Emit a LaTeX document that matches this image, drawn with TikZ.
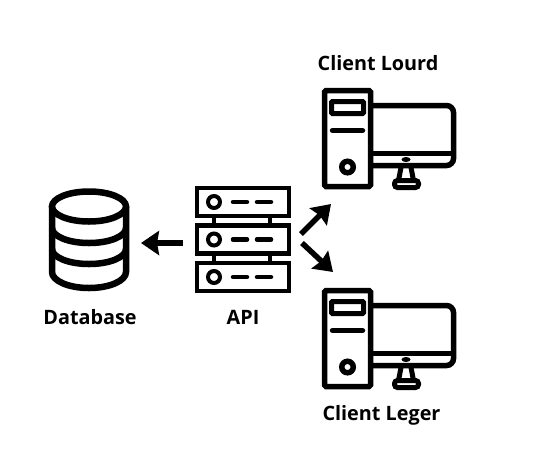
\documentclass[tikz,border=0pt]{standalone}
\usepackage{fontspec}
\setmainfont{Open Sans}
\usetikzlibrary{arrows.meta}
\tikzset{
  label text/.style={font=\fontsize{19.8}{22}\selectfont\bfseries, text=black},
  flow/.style={-{Stealth[length=18pt,width=24pt,inset=2pt]}, line width=5.5pt},
  pics/computer/.style={code={
    \draw[line width=5.5pt, rounded corners=1.5pt] (0,0) rectangle (46,96);
    \draw[line width=5pt, rounded corners=1pt] (7,11) rectangle (39,23);
    \draw[line width=5.5pt, line cap=round] (8,40) -- (38,40);
    \draw[line width=5.5pt] (23,76.5) circle (5.75);
    \draw[line width=5.5pt, rounded corners=7pt] (46,15) -- (129,15) -- (129,75) -- (46,75);
    \draw[line width=5pt] (46,63) -- (129,63);
    \fill (81.5,69) ellipse (4.5 and 2.5);
    \draw[line width=5pt, line join=round] (76.5,77) -- (74,90) (86.5,77) -- (89,90);
    \draw[line width=5pt, rounded corners=3pt] (70,90) rectangle (94,97);
  }},
  pics/server/.style={code={
    \draw[line width=4.5pt] (0,0) rectangle (92,28);
    \draw[line width=4pt] (17,14) circle (6);
    \draw[line width=4.5pt, line cap=round] (36,14) -- (50,14) (60,14) -- (74,14);
  }}
}
\begin{document}
\begin{tikzpicture}[x=1pt,y=-1pt]
  \useasboundingbox (0,0) rectangle (537,451);
  \draw
    (90,317) node[label text] (database){Database}
    (243,317) node[label text] (api){API}
    (378,63) node[label text] (lourd){Client Lourd}
    (381.5,415) node[label text] (leger){Client Leger};
  \begin{scope}[line width=6.5pt]
    \draw (89,206.5) ellipse (37 and 15);
    \draw (52,206.5) -- (52,272) arc[start angle=180, end angle=0, x radius=37, y radius=16] -- (126,206.5);
    \draw (52,228) arc[start angle=180, end angle=0, x radius=37, y radius=15];
    \draw (52,249) arc[start angle=180, end angle=0, x radius=37, y radius=15];
  \end{scope}
  \pic at (197,188) {server};
  \pic at (197,225.5) {server};
  \pic at (197,263) {server};
  \begin{scope}[line width=4pt]
    \draw (214,216) -- (214,225.5);
    \draw (270,216) -- (270,225.5);
    \draw (214,253.5) -- (214,263);
    \draw (270,253.5) -- (270,263);
  \end{scope}
  \pic at (324.5,90.5) {computer};
  \pic at (324.5,290.5) {computer};
  \coordinate (apileft) at (183,243);
  \coordinate (dbright) at (141,243);
  \coordinate (apiup) at (301,234);
  \coordinate (lourdin) at (331,204);
  \coordinate (apidown) at (302,243);
  \coordinate (legerin) at (333,272);
  \begin{scope}[flow]
    \draw (apileft) to (dbright);
    \draw (apiup) to (lourdin);
    \draw (apidown) to (legerin);
  \end{scope}
\end{tikzpicture}
\end{document}
